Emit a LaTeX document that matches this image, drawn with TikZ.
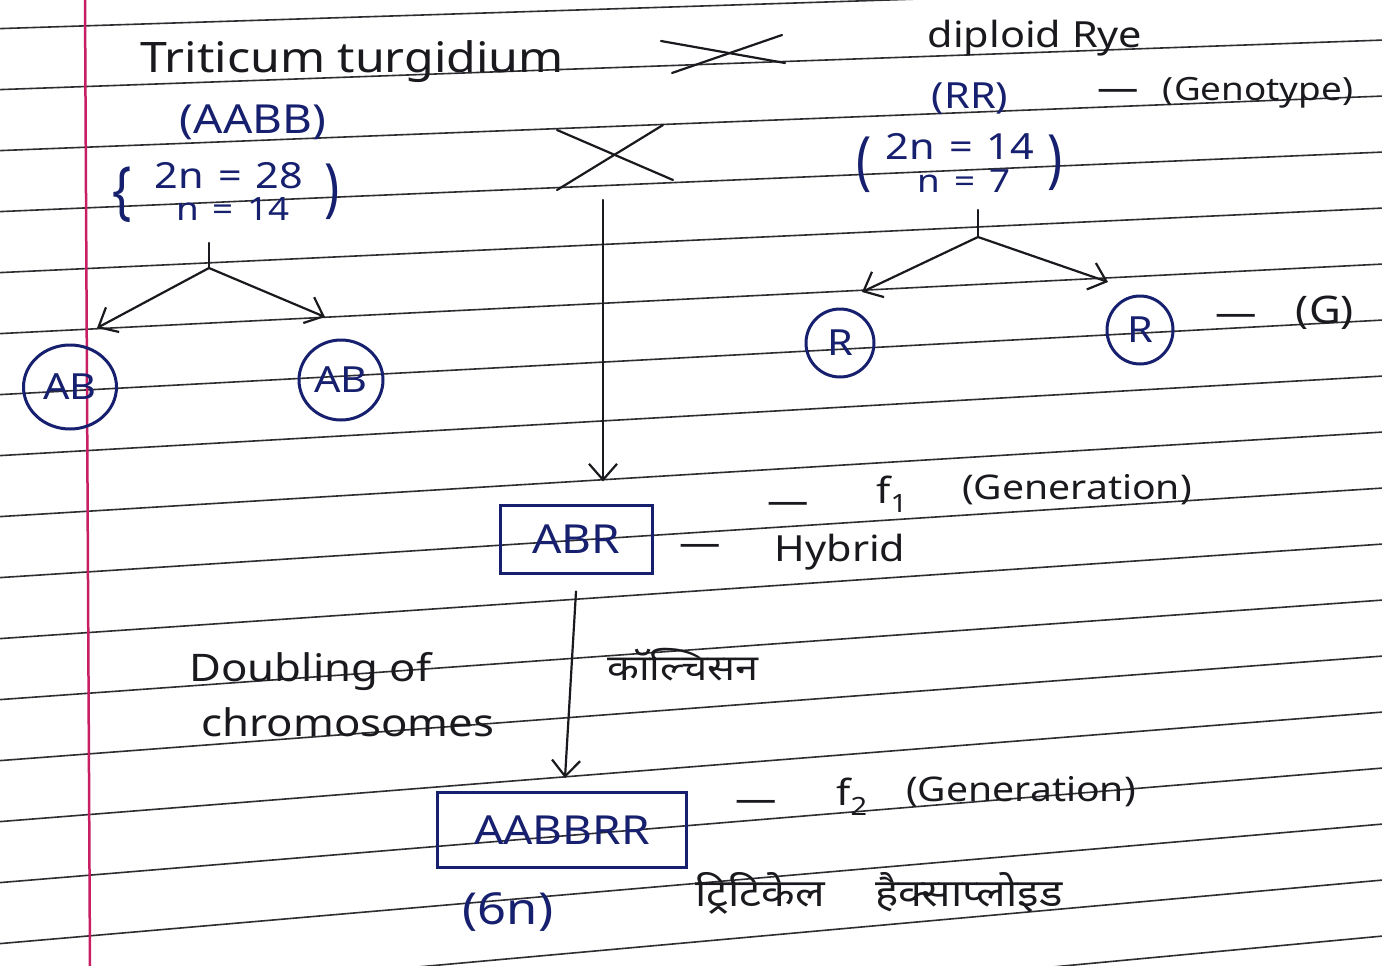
\documentclass[tikz,border=0pt]{standalone}
\usepackage{graphicx}
\usepackage{fontspec}
\setmainfont{Noto Sans}[FakeStretch=1.15]
\newfontfamily\hindifont[Script=Devanagari,FakeStretch=1.15]{Noto Sans}
\usetikzlibrary{arrows.meta,shapes.geometric,positioning}

\definecolor{inkblack}{RGB}{25,25,30}
\definecolor{inkblue}{RGB}{22,32,110}
\definecolor{ruleink}{RGB}{45,45,50}
\definecolor{marginred}{RGB}{200,30,100}

\newcommand{\tallbr}[1]{\scalebox{1}[1.45]{#1}}

\tikzset{
  hand/.style={font=\fontsize{36}{40}\selectfont, text=inkblack, inner sep=0pt},
  bluehand/.style={hand, text=inkblue},
  hindi/.style={hand, font=\hindifont\fontsize{36}{40}\selectfont},
  bracket/.style={bluehand, font=\fontsize{44}{44}\selectfont},
  gamete/.style={ellipse, draw=inkblue, line width=3pt, bluehand},
  genobox/.style={rectangle, draw=inkblue, line width=3pt, bluehand, font=\fontsize{40}{44}\selectfont},
  stroke/.style={draw=inkblack, line width=2.2pt, line cap=round},
  conn/.style={stroke, -{Straight Barb[length=16pt, width=28pt, line width=2.2pt]}},
  ruled/.style={draw=ruleink, line width=1.6pt},
}

\begin{document}
\begin{tikzpicture}[x=1pt, y=-1pt]
  \useasboundingbox (0,0) rectangle (1382,966);
  \fill[white] (0,0) rectangle (1382,966);
  % notebook page
  \begin{scope}
    \clip (0,0) rectangle (1382,966);
    \foreach \k in {0,...,17}
      \draw[ruled] (0,{28.6+61.0*\k}) -- (1382,{-15.9+56.0*\k});
    \draw[draw=marginred, line width=2.5pt] (85,0) -- (90,966);
  \end{scope}

  % parent 1
  \node[hand, font=\fontsize{42}{46}\selectfont] (wheat) at (352,62) {Triticum turgidium};
  \node[bluehand, font=\fontsize{40}{44}\selectfont] (wheatgen) at (253,122) {(AABB)};
  \node[bluehand] (wheat2n) at (229,176) {2n\hspace{14pt}=\hspace{14pt}28};
  \node[bluehand, font=\fontsize{32}{36}\selectfont] (wheatn) at (233,209) {n\hspace{14pt}=\hspace{14pt}14};
  \node[bracket] (wheatlb) at (122,195) {\tallbr{\{}};
  \node[bracket] (wheatrb) at (332,192) {\tallbr{)}};

  % parent 2
  \node[hand] (rye) at (1035,38) {diploid Rye};
  \node[bluehand] (ryegen) at (970,98) {(RR)};
  \node[hand] (gtdash) at (1118,95) {—};
  \node[hand, font=\fontsize{32}{36}\selectfont] (genotype) at (1258,93) {(Genotype)};
  \node[bluehand] (rye2n) at (960,146) {2n\hspace{14pt}=\hspace{14pt}14};
  \node[bluehand, font=\fontsize{32}{36}\selectfont] (ryen) at (964,181) {n\hspace{14pt}=\hspace{14pt}7};
  \node[bracket] (ryelb) at (864,165) {\tallbr{(}};
  \node[bracket] (ryerb) at (1055,163) {\tallbr{)}};

  % cross signs
  \draw[stroke] (661,41) -- (785,63);
  \draw[stroke] (672,73) -- (782,35);
  \draw[stroke] (557,130) -- (673,180);
  \draw[stroke] (557,190) -- (663,125);

  % gametes
  \node[gamete, minimum width=93pt, minimum height=84pt] (ab1) at (70,387) {AB};
  \node[gamete, minimum width=84pt, minimum height=80pt] (ab2) at (341,380) {AB};
  \node[gamete, minimum width=68pt, minimum height=68pt] (r1) at (840,343) {R};
  \node[gamete, minimum width=66pt, minimum height=68pt] (r2) at (1140,330) {R};
  \node[hand] (gdash) at (1236,320) {—};
  \node[hand, font=\fontsize{38}{42}\selectfont] (gam) at (1325,313) {(G)};

  \coordinate (wstem) at (209,243);
  \coordinate (wsplit) at (209,268);
  \coordinate (ab1tip) at (97,328);
  \coordinate (ab2tip) at (325,317);
  \draw[stroke] (wstem) -- (wsplit);
  \draw[conn] (wsplit) -- (ab1tip);
  \draw[conn] (wsplit) -- (ab2tip);

  \coordinate (rstem) at (978,210);
  \coordinate (rsplit) at (978,237);
  \coordinate (r1tip) at (862,292);
  \coordinate (r2tip) at (1108,282);
  \draw[stroke] (rstem) -- (rsplit);
  \draw[conn] (rsplit) -- (r1tip);
  \draw[conn] (rsplit) -- (r2tip);

  % hybrid
  \coordinate (crossfoot) at (603,200);
  \node[genobox, minimum width=152pt, minimum height=68pt] (abr) at (576,539) {ABR};
  \draw[conn, shorten >=22pt] (crossfoot) -- (crossfoot |- abr.north);
  \node[hand] (f1dash) at (788,508) {—};
  \node[hand] (f1) at (892,494) {f\textsubscript{1}};
  \node[hand, font=\fontsize{34}{38}\selectfont] (f1gen) at (1077,490) {(Generation)};
  \node[hand] (hydash) at (700,550) {—};
  \node[hand] (hybrid) at (840,552) {Hybrid};

  % doubling
  \node[hand, font=\fontsize{38}{55}\selectfont, align=left] (doubling) at (342,695) {Doubling of\\\hspace{12pt}chromosomes};
  \node[hindi] (colch) at (683,665) {कॉल्चिसन};
  \node[genobox, minimum width=249pt, minimum height=75pt] (aabbrr) at (562,830) {AABBRR};
  \draw[conn] ([yshift=-17pt]abr.south) -- ([xshift=3pt,yshift=13pt]aabbrr.north);

  % amphidiploid
  \node[hand] (f2dash) at (756,806) {—};
  \node[hand] (f2) at (852,797) {f\textsubscript{2}};
  \node[hand, font=\fontsize{34}{38}\selectfont] (f2gen) at (1021,792) {(Generation)};
  \node[bluehand, font=\fontsize{44}{48}\selectfont] (sixn) at (508,912) {(6n)};
  \node[hindi, font=\hindifont\fontsize{38}{42}\selectfont] (triticale) at (879,893) {ट्रिटिकेल\hspace{50pt}हैक्साप्लोइड};
\end{tikzpicture}
\end{document}
